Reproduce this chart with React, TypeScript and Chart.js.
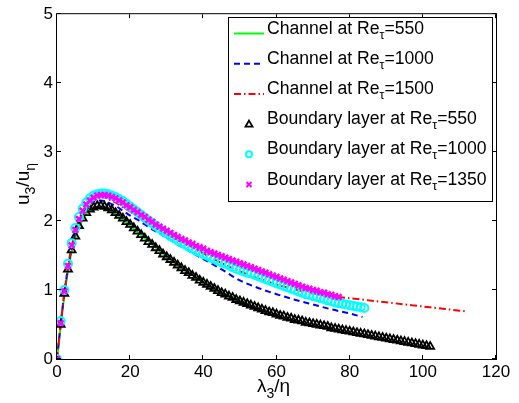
import React, { useEffect, useRef } from "react";
import { Chart, registerables } from "chart.js";

Chart.register(...registerables);

const FONT = '"Liberation Sans", Arial, Helvetica, sans-serif';

// Axis ticks
const xTickValues = [0, 20, 40, 60, 80, 100, 120];
const yTickValues = [0, 1, 2, 3, 4, 5];

// Legend text
const legendPrefix = [
  "Channel at Re",
  "Channel at Re",
  "Channel at Re",
  "Boundary layer at Re",
  "Boundary layer at Re",
  "Boundary layer at Re",
];
const legendRe = ["=550", "=1000", "=1500", "=550", "=1000", "=1350"];

// Channel at Re_tau = 550 (green solid)
const ch550X = [0, 1, 2, 3, 4, 5, 6, 7, 8, 9, 10, 11, 12, 13, 14, 16, 18, 20, 22, 24, 26, 28, 30, 32, 34, 36, 38, 40, 42, 44, 46, 48, 50, 52];
const ch550Y = [0, 0.48, 0.92, 1.28, 1.56, 1.76, 1.91, 2.02, 2.1, 2.15, 2.18, 2.2, 2.2, 2.19, 2.17, 2.1, 2.02, 1.93, 1.84, 1.75, 1.66, 1.57, 1.48, 1.4, 1.32, 1.25, 1.18, 1.11, 1.05, 0.99, 0.94, 0.89, 0.85, 0.81];

// Channel at Re_tau = 1000 (blue dashed)
const ch1000X = [0, 1, 2, 3, 4, 5, 6, 7, 8, 9, 10, 11, 12, 13, 14, 16, 18, 20, 22, 24, 27, 30, 33, 36, 40, 45, 50, 55, 60, 65, 70, 75, 80, 83.5];
const ch1000Y = [0, 0.5, 0.95, 1.32, 1.6, 1.82, 1.98, 2.1, 2.19, 2.25, 2.28, 2.3, 2.3, 2.29, 2.27, 2.22, 2.15, 2.08, 2.02, 1.95, 1.85, 1.76, 1.66, 1.57, 1.45, 1.3, 1.14, 1.03, 0.94, 0.86, 0.79, 0.72, 0.66, 0.61];

// Channel at Re_tau = 1500 (red dash-dot)
const ch1500X = [0, 1, 2, 3, 4, 5, 6, 7, 8, 9, 10, 11, 12, 13, 14, 16, 18, 20, 23, 26, 30, 33, 36, 40, 45, 50, 55, 60, 65, 70, 77, 82, 87, 92, 97, 102, 107, 112];
const ch1500Y = [0, 0.5, 0.95, 1.33, 1.63, 1.85, 2.02, 2.14, 2.23, 2.29, 2.33, 2.35, 2.35, 2.34, 2.32, 2.27, 2.2, 2.14, 2.06, 1.96, 1.83, 1.74, 1.65, 1.53, 1.39, 1.27, 1.17, 1.08, 1.01, 0.95, 0.9, 0.87, 0.84, 0.81, 0.78, 0.75, 0.72, 0.69];

// Boundary-layer sample positions (lambda_3 / eta)
const blX = [0, 1, 2, 3, 4, 5, 6, 7, 8, 9, 10, 11, 12, 13, 14, 15, 16, 17, 18, 19, 20, 21, 22, 23, 24, 25, 26, 27, 28, 29, 30, 31, 32, 33, 34, 35, 36, 37, 38, 39, 40, 41, 42, 43, 44, 45, 46, 47, 48, 49, 50, 51, 52, 53, 54, 55, 56, 57, 58, 59, 60, 61, 62, 63, 64, 65, 66, 67, 68, 69, 70, 71, 72, 73, 74, 75, 76, 77, 78, 79, 80, 81, 82, 83, 84, 85, 86, 87, 88, 89, 90, 91, 92, 93, 94, 95, 96, 97, 98, 99, 100, 101, 102];

// Boundary layer at Re_tau = 550 (black triangles)
const bl550Y = [
  0, 0.5, 0.95, 1.3, 1.58, 1.78, 1.93, 2.04, 2.12, 2.17,
  2.2, 2.22, 2.22, 2.21, 2.19, 2.16, 2.12, 2.08, 2.04, 1.99,
  1.95, 1.9, 1.85, 1.8, 1.75, 1.7, 1.66, 1.61, 1.57, 1.52,
  1.48, 1.44, 1.4, 1.36, 1.32, 1.28, 1.25, 1.21, 1.18, 1.14,
  1.11, 1.08, 1.05, 1.02, 0.99, 0.96, 0.94, 0.91, 0.89, 0.86,
  0.84, 0.82, 0.8, 0.78, 0.76, 0.74, 0.72, 0.7, 0.68, 0.67,
  0.65, 0.63, 0.62, 0.6, 0.59, 0.57, 0.56, 0.55, 0.53, 0.52,
  0.51, 0.5, 0.49, 0.48, 0.47, 0.45, 0.44, 0.43, 0.42, 0.41,
  0.4, 0.39, 0.38, 0.37, 0.36, 0.35, 0.34, 0.33, 0.32, 0.31,
  0.3, 0.29, 0.28, 0.27, 0.26, 0.25, 0.24, 0.23, 0.22, 0.21,
  0.2, 0.19, 0.18,
];

// Boundary layer at Re_tau = 1000 (cyan circles)
const bl1000Y = [
  0, 0.55, 1.0, 1.38, 1.68, 1.9, 2.06, 2.18, 2.27, 2.33,
  2.37, 2.39, 2.4, 2.4, 2.39, 2.37, 2.35, 2.32, 2.29, 2.25,
  2.21, 2.17, 2.13, 2.09, 2.05, 2.01, 1.97, 1.93, 1.89, 1.85,
  1.82, 1.78, 1.75, 1.72, 1.69, 1.66, 1.63, 1.6, 1.57, 1.55,
  1.52, 1.5, 1.47, 1.45, 1.42, 1.4, 1.38, 1.36, 1.33, 1.31,
  1.29, 1.27, 1.25, 1.24, 1.22, 1.2, 1.18, 1.16, 1.14, 1.12,
  1.1, 1.08, 1.06, 1.04, 1.02, 1.0, 0.98, 0.96, 0.94, 0.93,
  0.91, 0.9, 0.88, 0.87, 0.85, 0.84, 0.82, 0.81, 0.8, 0.79,
  0.78, 0.77, 0.76, 0.75, 0.74,
];

// Boundary layer at Re_tau = 1350 (magenta crosses)
const bl1350Y = [
  0, 0.52, 0.98, 1.35, 1.65, 1.87, 2.03, 2.15, 2.24, 2.3,
  2.34, 2.37, 2.38, 2.38, 2.37, 2.35, 2.33, 2.3, 2.27, 2.23,
  2.2, 2.16, 2.13, 2.09, 2.06, 2.02, 1.99, 1.95, 1.92, 1.89,
  1.86, 1.83, 1.8, 1.77, 1.74, 1.72, 1.69, 1.67, 1.64, 1.62,
  1.6, 1.57, 1.55, 1.53, 1.51, 1.49, 1.47, 1.45, 1.43, 1.41,
  1.39, 1.37, 1.35, 1.33, 1.31, 1.29, 1.27, 1.25, 1.23, 1.21,
  1.19, 1.17, 1.15, 1.13, 1.11, 1.09, 1.07, 1.05, 1.03, 1.02,
  1.0, 0.99, 0.97, 0.96, 0.94, 0.93, 0.91, 0.9,
];

const pts = (xs: number[], ys: number[]) => ys.map((y, i) => ({ x: xs[i], y }));

function drawRich(ctx: CanvasRenderingContext2D, x: number, y: number, parts: [string, boolean][], size: number, subSize: number, subOff: number) {
  let cx = x;
  for (const [t, sub] of parts) {
    ctx.font = `${sub ? subSize : size}px ${FONT}`;
    ctx.fillText(t, cx, sub ? y + subOff : y);
    cx += ctx.measureText(t).width;
  }
  return cx;
}

function drawMarker(ctx: CanvasRenderingContext2D, kind: string, x: number, y: number) {
  ctx.save();
  ctx.beginPath();
  if (kind === "tri") {
    ctx.strokeStyle = "#000";
    ctx.lineWidth = 1.8;
    ctx.moveTo(x, y - 3.5);
    ctx.lineTo(x + 3.5, y + 2.5);
    ctx.lineTo(x - 3.5, y + 2.5);
    ctx.closePath();
    ctx.stroke();
  } else if (kind === "circ") {
    ctx.strokeStyle = "#00ffff";
    ctx.lineWidth = 2;
    ctx.arc(x, y, 3, 0, Math.PI * 2);
    ctx.stroke();
  } else {
    ctx.strokeStyle = "#ff00ff";
    ctx.lineWidth = 2;
    ctx.moveTo(x - 2.5, y - 2.5);
    ctx.lineTo(x + 2.5, y + 2.5);
    ctx.moveTo(x + 2.5, y - 2.5);
    ctx.lineTo(x - 2.5, y + 2.5);
    ctx.stroke();
  }
  ctx.restore();
}

const decorPlugin = {
  id: "decor",
  afterDraw(chart: any) {
    const { ctx, chartArea, scales } = chart;
    const { left, right, top, bottom } = chartArea;
    ctx.save();
    // frame
    ctx.strokeStyle = "#000";
    ctx.lineWidth = 1;
    ctx.strokeRect(left - 0.5, top - 0.5, right - left + 1, bottom - top + 1);
    // inner ticks
    const tl = 4;
    ctx.beginPath();
    for (const v of xTickValues) {
      const px = Math.round(scales.x.getPixelForValue(v)) - 0.5;
      ctx.moveTo(px, bottom);
      ctx.lineTo(px, bottom - tl);
      ctx.moveTo(px, top);
      ctx.lineTo(px, top + tl);
    }
    for (const v of yTickValues) {
      const py = Math.round(scales.y.getPixelForValue(v)) - 0.5;
      ctx.moveTo(left, py);
      ctx.lineTo(left + tl, py);
      ctx.moveTo(right, py);
      ctx.lineTo(right - tl, py);
    }
    ctx.stroke();

    // axis titles
    ctx.fillStyle = "#000";
    ctx.textBaseline = "alphabetic";
    ctx.textAlign = "left";
    drawRich(ctx, 257, 392, [["λ", false], ["3", true], ["/η", false]], 19, 14, 6);
    ctx.save();
    ctx.translate(29, 205);
    ctx.rotate(-Math.PI / 2);
    drawRich(ctx, 0, 0, [["u", false], ["3", true], ["/u", false], ["η", true]], 19, 14, 6);
    ctx.restore();

    // legend box
    const lx = 228, ly = 17, lw = 264, lh = 184;
    ctx.fillStyle = "#fff";
    ctx.fillRect(lx, ly, lw, lh);
    ctx.strokeStyle = "#000";
    ctx.lineWidth = 1;
    ctx.strokeRect(lx + 0.5, ly + 0.5, lw, lh);

    const styles = [
      { color: "#00ff00", dash: [] as number[] },
      { color: "#0000ff", dash: [6, 4] },
      { color: "#ff0000", dash: [7, 3, 1.5, 3] },
    ];
    const markers = ["tri", "circ", "x"];
    for (let i = 0; i < 6; i++) {
      const by = 33.5 + i * 30.2;
      if (i < 3) {
        ctx.save();
        ctx.strokeStyle = styles[i].color;
        ctx.lineWidth = 2;
        ctx.setLineDash(styles[i].dash);
        ctx.beginPath();
        ctx.moveTo(234, by);
        ctx.lineTo(264, by);
        ctx.stroke();
        ctx.restore();
      } else {
        drawMarker(ctx, markers[i - 3], 249, by);
      }
      ctx.fillStyle = "#000";
      drawRich(ctx, 267, by, [[legendPrefix[i], false], ["τ", true], [legendRe[i], false]], 17.6, 12.5, 5);
    }
    ctx.restore();
  },
};

export default function App() {
  const ref = useRef<HTMLCanvasElement | null>(null);
  useEffect(() => {
    document.body.style.margin = "0";
    const canvas = ref.current!;
    const chart = new Chart(canvas, {
      type: "scatter",
      data: {
        datasets: [
          {
            label: "Channel 550",
            data: pts(ch550X, ch550Y),
            showLine: true,
            borderColor: "#00ff00",
            borderWidth: 2,
            pointRadius: 0,
            cubicInterpolationMode: "monotone",
            order: 6,
          },
          {
            label: "Channel 1000",
            data: pts(ch1000X, ch1000Y),
            showLine: true,
            borderColor: "#0000ff",
            borderWidth: 2,
            borderDash: [6, 4],
            pointRadius: 0,
            cubicInterpolationMode: "monotone",
            order: 5,
          },
          {
            label: "Channel 1500",
            data: pts(ch1500X, ch1500Y),
            showLine: true,
            borderColor: "#ff0000",
            borderWidth: 2,
            borderDash: [7, 3, 1.5, 3],
            pointRadius: 0,
            cubicInterpolationMode: "monotone",
            order: 4,
          },
          {
            label: "BL 550",
            data: pts(blX, bl550Y),
            pointStyle: "triangle",
            pointRadius: 4.6,
            borderColor: "#000",
            backgroundColor: "rgba(0,0,0,0)",
            pointBorderWidth: 1.8,
            order: 3,
          },
          {
            label: "BL 1000",
            data: pts(blX, bl1000Y),
            pointStyle: "circle",
            pointRadius: 4,
            borderColor: "#00ffff",
            backgroundColor: "rgba(0,0,0,0)",
            pointBorderWidth: 2,
            order: 2,
          },
          {
            label: "BL 1350",
            data: pts(blX, bl1350Y),
            pointStyle: "crossRot",
            pointRadius: 4,
            borderColor: "#ff00ff",
            backgroundColor: "#ff00ff",
            pointBorderWidth: 2.4,
            order: 1,
          },
        ],
      },
      options: {
        responsive: false,
        animation: false,
        devicePixelRatio: 1,
        layout: { padding: { left: 0, top: 12, right: 23, bottom: 0 } },
        plugins: { legend: { display: false }, tooltip: { enabled: false } },
        scales: {
          x: {
            type: "linear",
            min: 0,
            max: 120,
            afterFit: (s: any) => { s.height = 44; },
            afterBuildTicks: (s: any) => { s.ticks = xTickValues.map((v) => ({ value: v })); },
            grid: { display: false, drawTicks: false },
            border: { display: false },
            ticks: { color: "#000", font: { family: FONT, size: 17 }, padding: 3, maxRotation: 0 },
          },
          y: {
            type: "linear",
            min: 0,
            max: 5,
            afterFit: (s: any) => { s.width = 57; },
            afterBuildTicks: (s: any) => { s.ticks = yTickValues.map((v) => ({ value: v })); },
            grid: { display: false, drawTicks: false },
            border: { display: false },
            ticks: { color: "#000", font: { family: FONT, size: 17 }, padding: 4 },
          },
        },
      },
      plugins: [decorPlugin],
    } as any);
    return () => chart.destroy();
  }, []);
  return (
    <div style={{ width: 519, height: 403, background: "#fff" }}>
      <canvas ref={ref} width={519} height={403} style={{ width: 519, height: 403, display: "block" }} />
    </div>
  );
}
